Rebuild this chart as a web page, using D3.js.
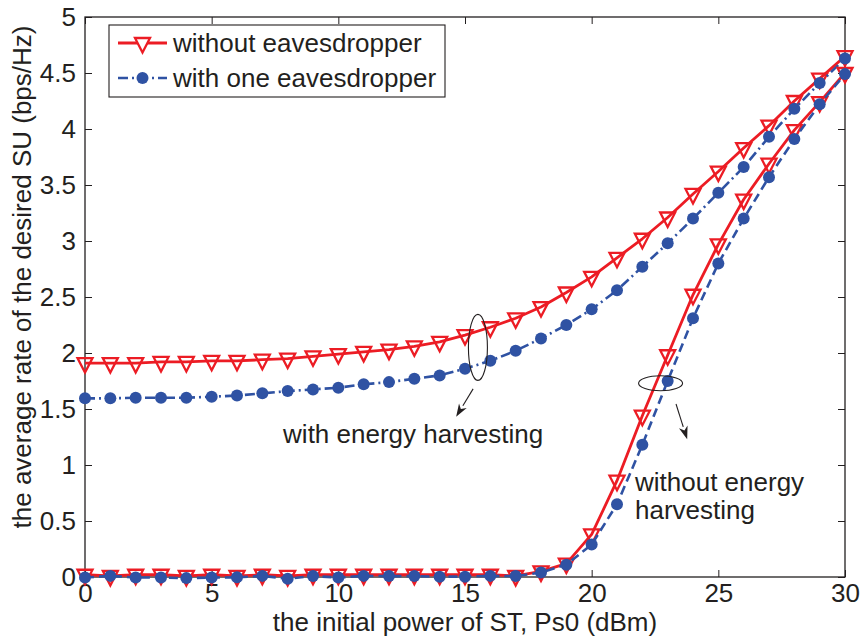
<!DOCTYPE html>
<html><head><meta charset="utf-8">
<script src="https://cdn.jsdelivr.net/npm/d3@7"></script>
<style>
body{margin:0;background:#fff}
svg{display:block}
text{font-family:"Liberation Sans",Arial,Helvetica,sans-serif;fill:#231f20}
</style>
</head><body>
<svg id="chart" width="861" height="641"></svg>
<script>
// ---- data ----
const powers = [0,1,2,3,4,5,6,7,8,9,10,11,12,13,14,15,16,17,18,19,20,21,22,23,24,25,26,27,28,29,30];
// with energy harvesting
const rateNoEveEH = [1.91,1.91,1.91,1.92,1.92,1.93,1.93,1.94,1.95,1.97,1.99,2.01,2.03,2.06,2.10,2.16,2.23,2.31,2.41,2.54,2.68,2.85,3.02,3.21,3.42,3.62,3.83,4.03,4.25,4.45,4.65];
const rateEveEH   = [1.595,1.595,1.60,1.60,1.60,1.61,1.62,1.64,1.66,1.675,1.69,1.72,1.74,1.77,1.80,1.86,1.93,2.02,2.13,2.25,2.39,2.56,2.77,2.98,3.20,3.43,3.66,3.93,4.18,4.41,4.63];
// without energy harvesting
const rateNoEveNoEH = [0.02,0.01,0.02,0.02,0.01,0.02,0.01,0.02,0.01,0.02,0.02,0.02,0.02,0.02,0.02,0.02,0.02,0.01,0.05,0.12,0.38,0.86,1.44,1.98,2.52,2.97,3.37,3.69,3.99,4.24,4.50];
const rateEveNoEH   = [-0.005,0.01,-0.005,-0.005,-0.01,-0.005,-0.003,0.01,-0.015,0.008,-0.005,0.01,0.008,0.008,0.003,0.003,0.01,0.008,0.04,0.11,0.29,0.65,1.18,1.75,2.31,2.80,3.20,3.57,3.91,4.22,4.49];

const xTicks = [0,5,10,15,20,25,30];
const xTickLabels = ["0","5","10","15","20","25","30"];
const yTicks = [0,0.5,1,1.5,2,2.5,3,3.5,4,4.5,5];
const yTickLabels = ["0","0.5","1","1.5","2","2.5","3","3.5","4","4.5","5"];
const legendLabels = ["without eavesdropper","with one eavesdropper"];
const xLabel = "the initial power of ST, Ps0 (dBm)";
const yLabel = "the average rate of the desired SU (bps/Hz)";
const annoEH = "with energy harvesting";
const annoNoEH = ["without energy","harvesting"];

// ---- drawing ----
const RED = "#ec1c24", BLUE = "#2f52a3", FS = 26;
const svg = d3.select("#chart");
const x = d3.scaleLinear().domain([0,30]).range([85,845]);
const y = d3.scaleLinear().domain([0,5]).range([577,17]);

const axG = svg.append("g");
const fmtX = (d)=> xTickLabels[xTicks.indexOf(d)];
const fmtY = (d)=> yTickLabels[yTicks.indexOf(d)];
function styleAxis(g){ g.select(".domain").remove(); g.selectAll("line").attr("stroke","#231f20").attr("stroke-width",1);
  g.selectAll("text").attr("font-size",FS).attr("font-family","Liberation Sans, Arial, sans-serif").attr("fill","#231f20"); }
axG.append("g").attr("transform","translate(0,577)")
  .call(d3.axisBottom(x).tickValues(xTicks).tickFormat(fmtX).tickSizeInner(-7).tickSizeOuter(0).tickPadding(7)).call(styleAxis);
axG.append("g").attr("transform","translate(0,17)")
  .call(d3.axisTop(x).tickValues(xTicks).tickFormat("").tickSizeInner(-7).tickSizeOuter(0)).call(styleAxis);
axG.append("g").attr("transform","translate(85,0)")
  .call(d3.axisLeft(y).tickValues(yTicks).tickFormat(fmtY).tickSizeInner(-7).tickSizeOuter(0).tickPadding(9)).call(styleAxis);
axG.append("g").attr("transform","translate(845,0)")
  .call(d3.axisRight(y).tickValues(yTicks).tickFormat("").tickSizeInner(-7).tickSizeOuter(0)).call(styleAxis);
svg.append("rect").attr("x",x(0)).attr("y",y(5)).attr("width",x(30)-x(0)).attr("height",y(0)-y(5))
  .attr("fill","none").attr("stroke","#231f20").attr("stroke-width",1.3);

const tri = "M-7.5,-5L7.5,-5L0,9.5Z";
function drawRed(vals){
  const data = powers.map((p,i)=>[p,vals[i]]);
  svg.append("path").datum(data).attr("d",d3.line().x(d=>x(d[0])).y(d=>y(d[1])))
    .attr("fill","none").attr("stroke",RED).attr("stroke-width",2.8).attr("stroke-linejoin","round");
  svg.append("g").selectAll("path").data(data).join("path")
    .attr("transform",d=>`translate(${x(d[0])},${y(d[1])})`).attr("d",tri)
    .attr("fill","#fff").attr("fill-opacity",0).attr("stroke",RED).attr("stroke-width",2.3).attr("stroke-linejoin","miter");
}
function drawBlue(vals, dash){
  const data = powers.map((p,i)=>[p,vals[i]]);
  svg.append("path").datum(data).attr("d",d3.line().x(d=>x(d[0])).y(d=>y(d[1])))
    .attr("fill","none").attr("stroke",BLUE).attr("stroke-width",2.6).attr("stroke-dasharray",dash);
  svg.append("g").selectAll("circle").data(data).join("circle")
    .attr("cx",d=>x(d[0])).attr("cy",d=>y(d[1])).attr("r",6).attr("fill",BLUE);
}
drawRed(rateNoEveEH);
drawBlue(rateEveEH,"10,4,2,4");
drawRed(rateNoEveNoEH);
drawBlue(rateEveNoEH,"9,5");

// annotations
function ellipse(cx,cy,rx,ry){
  svg.append("ellipse").attr("cx",x(cx)).attr("cy",y(cy)).attr("rx",rx).attr("ry",ry)
    .attr("fill","none").attr("stroke","#231f20").attr("stroke-width",1.1);
}
function arrow(x1,y1,x2,y2){
  const X1=x(x1),Y1=y(y1),X2=x(x2),Y2=y(y2);
  const a=Math.atan2(Y2-Y1,X2-X1), L=13, Wd=4.5;
  const bx=X2-L*Math.cos(a), by=Y2-L*Math.sin(a);
  svg.append("line").attr("x1",X1).attr("y1",Y1).attr("x2",bx).attr("y2",by).attr("stroke","#231f20").attr("stroke-width",1.1);
  const px=-Math.sin(a)*Wd, py=Math.cos(a)*Wd;
  svg.append("path").attr("d",`M${X2},${Y2}L${bx+px},${by+py}L${X2-L*0.7*Math.cos(a)},${Y2-L*0.7*Math.sin(a)}L${bx-px},${by-py}Z`).attr("fill","#231f20");
}
ellipse(15.51,2.05,9.5,33);
arrow(15.32,1.68,14.65,1.43);
ellipse(22.72,1.73,22,7.5);
arrow(23.33,1.545,23.77,1.23);
svg.append("text").attr("x",x(7.82)).attr("y",y(1.196)).attr("font-size",FS).text(annoEH);
svg.append("text").attr("x",x(21.71)).attr("y",y(0.768)).attr("font-size",FS).text(annoNoEH[0]);
svg.append("text").attr("x",x(21.71)).attr("y",y(0.518)).attr("font-size",FS).text(annoNoEH[1]);

// axis labels
svg.append("text").attr("x",(x(0)+x(30))/2).attr("y",631).attr("text-anchor","middle").attr("font-size",FS).text(xLabel);
svg.append("text").attr("transform","translate(31,277) rotate(-90)").attr("text-anchor","middle").attr("font-size",FS).text(yLabel);

// legend
const lg = svg.append("g");
lg.append("rect").attr("x",109).attr("y",25).attr("width",336).attr("height",72).attr("fill","#fff").attr("stroke","#231f20").attr("stroke-width",1.1);
[[43,RED,null],[78,BLUE,"10,4,2,4"]].forEach(([yy,col,dash],i)=>{
  lg.append("line").attr("x1",118).attr("x2",167).attr("y1",yy).attr("y2",yy).attr("stroke",col)
    .attr("stroke-width",i?2.6:2.8).attr("stroke-dasharray",dash);
  if(i===0) lg.append("path").attr("transform",`translate(142.5,${yy})`).attr("d",tri).attr("fill","#fff").attr("stroke",RED).attr("stroke-width",2.3);
  else lg.append("circle").attr("cx",142.5).attr("cy",yy).attr("r",6).attr("fill",BLUE);
  lg.append("text").attr("x",173).attr("y",yy+9).attr("font-size",FS).text(legendLabels[i]);
});
</script>
</body></html>
